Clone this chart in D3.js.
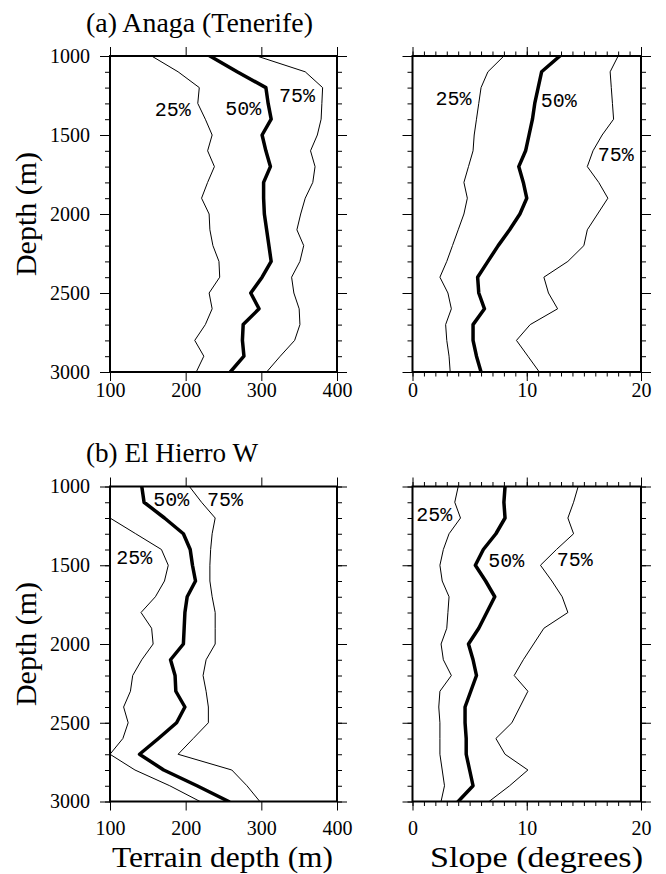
<!DOCTYPE html>
<html>
<head>
<meta charset="UTF-8">
<title>Terrain depth and slope percentiles</title>
<script src="https://cdn.jsdelivr.net/npm/d3@7"></script>
<style>
  body { margin: 0; background: #fff; }
  svg { display: block; }
  .frame { fill: none; stroke: #000; stroke-width: 2px; }
  .axis path { display: none; }
  .axis line { stroke: #000; stroke-width: 1px; }
  .axis text { font-family: "Liberation Serif", serif; font-size: 20px; fill: #000; }
  .line { fill: none; stroke: #000; stroke-linejoin: round; stroke-linecap: round; }
  .pct { font-family: "Liberation Mono", monospace; font-size: 20px; fill: #000; }
  .title { font-family: "Liberation Serif", serif; font-size: 27px; fill: #000; }
  .label { font-family: "Liberation Serif", serif; font-size: 30px; fill: #000; }
</style>
</head>
<body>
<div id="chart"></div>
<script>
  // depth of each sample (m)
  var depths = [1000, 1100, 1200, 1300, 1400, 1500, 1600, 1700, 1800, 1900, 2000,
                2100, 2200, 2300, 2400, 2500, 2600, 2700, 2800, 2900, 3000];

  // (a) Anaga (Tenerife) - terrain depth (m)
  var anagaDepth25 = [155, 190, 218, 216, 226, 235, 229, 238, 229, 221, 231, 232, 236, 244, 245, 231, 235, 226, 212, 224, 214];
  var anagaDepth50 = [232, 268, 306, 309, 313, 301, 306, 312, 303, 303, 304, 307, 310, 313, 301, 286, 297, 276, 275, 277, 259];
  var anagaDepth75 = [294, 358, 381, 380, 379, 374, 365, 371, 368, 358, 352, 347, 356, 351, 340, 343, 350, 351, 344, 325, 307];

  // (a) Anaga (Tenerife) - slope (degrees)
  var anagaSlope25 = [8.0, 6.6, 6.0, 5.8, 5.6, 5.4, 5.3, 4.9, 4.5, 4.8, 4.5, 4.0, 3.5, 3.0, 2.4, 3.1, 3.4, 2.9, 3.0, 3.2, 3.3];
  var anagaSlope50 = [12.9, 11.3, 11.0, 10.7, 10.5, 10.2, 9.9, 9.3, 9.7, 10.0, 9.4, 8.5, 7.5, 6.6, 5.7, 5.8, 6.3, 5.3, 5.3, 5.6, 6.0];
  var anagaSlope75 = [18.0, 17.3, 17.4, 17.5, 17.6, 16.6, 15.8, 15.3, 16.3, 17.1, 16.2, 15.3, 15.0, 13.6, 11.5, 11.9, 12.7, 10.3, 9.1, 10.1, 11.1];

  // (b) El Hierro W - terrain depth (m); null = off the left edge
  var hierroDepth25 = [null, null, 100, 134, 168, 177, 172, 160, 141, 155, 157, 142, 130, 127, 118, 124, 117, 100, 133, 179, 219];
  var hierroDepth50 = [142, 145, 172, 197, 206, 209, 213, 202, 199, 198, 197, 180, 186, 187, 199, 188, 164, 139, 171, 215, 257];
  var hierroDepth75 = [205, 221, 239, 235, 233, 232, 232, 235, 239, 239, 239, 227, 223, 227, 230, 230, 210, 190, 261, 281, 298];

  // (b) El Hierro W - slope (degrees)
  var hierroSlope25 = [4.0, 3.7, 4.2, 3.2, 2.7, 2.4, 2.6, 3.2, 3.1, 3.0, 2.5, 2.7, 3.4, 2.4, 2.3, 2.4, 2.4, 2.4, 2.6, 2.8, 2.5];
  var hierroSlope50 = [8.1, 8.0, 8.1, 7.3, 6.2, 5.5, 6.4, 7.2, 6.5, 5.8, 4.9, 5.3, 5.6, 5.1, 4.6, 4.6, 4.7, 4.7, 5.0, 5.3, 4.0];
  var hierroSlope75 = [14.5, 14.1, 13.6, 14.1, 12.6, 11.2, 12.2, 13.1, 13.6, 11.5, 10.6, 9.7, 8.9, 10.1, 9.4, 8.7, 7.3, 8.1, 10.1, 8.5, 6.7];

  var pctNames = ["25%", "50%", "75%"];

  // where the percentile labels sit, in data units [x, depth]
  var anagaDepthLabels  = [[183, 1344], [276, 1337], [347, 1258]];
  var anagaSlopeLabels  = [[3.6, 1274], [12.8, 1285], [17.8, 1628]];
  var hierroDepthLabels = [[132, 1454], [181, 1090], [252, 1090]];
  var hierroSlopeLabels = [[1.9, 1185], [8.2, 1475], [14.2, 1467]];

  var terrainTicks = [100, 200, 300, 400];
  var slopeTicks = [0, 10, 20];
  var slopeMinor = [0, 1, 2, 3, 4, 5, 6, 7, 8, 9, 10, 11, 12, 13, 14, 15, 16, 17, 18, 19, 20];
  var depthTicks = [1000, 1500, 2000, 2500, 3000];

  var titles = ["(a) Anaga (Tenerife)", "(b) El Hierro W"];
  var xTitles = ["Terrain depth (m)", "Slope (degrees)"];

  /* layout */
  var width = 666, height = 874;
  var cols = [{ x0: 110, x1: 337, titleLen: 221, titleMid: 222.5 },
              { x0: 412.5, x1: 641, titleLen: 213, titleMid: 536.5 }];
  var rows = [{ y0: 56, y1: 372, labelGap: 25, titleLen: 227 },
              { y0: 486.5, y1: 801.5, labelGap: 33, titleLen: 172 }];

  var panels = [
    { row: 0, col: 0, kind: "terrain", series: [anagaDepth25, anagaDepth50, anagaDepth75], labels: anagaDepthLabels },
    { row: 0, col: 1, kind: "slope", series: [anagaSlope25, anagaSlope50, anagaSlope75], labels: anagaSlopeLabels },
    { row: 1, col: 0, kind: "terrain", series: [hierroDepth25, hierroDepth50, hierroDepth75], labels: hierroDepthLabels },
    { row: 1, col: 1, kind: "slope", series: [hierroSlope25, hierroSlope50, hierroSlope75], labels: hierroSlopeLabels }
  ];

  var svg = d3.select("#chart").append("svg")
    .attr("width", width)
    .attr("height", height);

  panels.forEach(function (p, i) {
    var c = cols[p.col], r = rows[p.row];
    var pw = c.x1 - c.x0, ph = r.y1 - r.y0;

    var x = d3.scaleLinear()
      .domain(p.kind === "terrain" ? [100, 400] : [0, 20])
      .range([0, pw]);
    var y = d3.scaleLinear()
      .domain([1000, 3000])
      .range([0, ph]);

    var g = svg.append("g")
      .attr("transform", "translate(" + c.x0 + "," + r.y0 + ")");

    g.append("clipPath").attr("id", "clip" + i)
      .append("rect").attr("width", pw).attr("height", ph);

    /* y ticks, left and right, outward */
    g.append("g").attr("class", "axis")
      .call(d3.axisLeft(y).tickValues(depths).tickSize(5).tickFormat(""));
    g.append("g").attr("class", "axis")
      .call(d3.axisLeft(y).tickValues(depthTicks).tickSize(10).tickPadding(10)
        .tickFormat(p.col === 0 ? d3.format("d") : ""));
    g.append("g").attr("class", "axis")
      .attr("transform", "translate(" + pw + ",0)")
      .call(d3.axisRight(y).tickValues(depths).tickSize(5).tickFormat(""));
    g.append("g").attr("class", "axis")
      .attr("transform", "translate(" + pw + ",0)")
      .call(d3.axisRight(y).tickValues(depthTicks).tickSize(10).tickFormat(""));

    /* x ticks, top and bottom, outward */
    var major = p.kind === "terrain" ? terrainTicks : slopeTicks;
    if (p.kind === "slope") {
      g.append("g").attr("class", "axis")
        .call(d3.axisTop(x).tickValues(slopeMinor).tickSize(4.5).tickFormat(""));
      g.append("g").attr("class", "axis")
        .attr("transform", "translate(0," + ph + ")")
        .call(d3.axisBottom(x).tickValues(slopeMinor).tickSize(4.5).tickFormat(""));
    }
    g.append("g").attr("class", "axis")
      .call(d3.axisTop(x).tickValues(major).tickSize(9).tickFormat(""));
    var xb = g.append("g").attr("class", "axis")
      .attr("transform", "translate(0," + ph + ")")
      .call(d3.axisBottom(x).tickValues(major).tickSize(9).tickFormat(d3.format("d")));
    xb.selectAll("text").attr("y", r.labelGap).attr("dy", 0);

    /* percentile lines */
    var line = d3.line()
      .defined(function (d) { return d[0] != null; })
      .x(function (d) { return x(d[0]); })
      .y(function (d) { return y(d[1]); });

    g.append("g").attr("clip-path", "url(#clip" + i + ")")
      .selectAll("path")
      .data(p.series).enter()
      .append("path")
      .attr("class", "line")
      .attr("stroke-width", function (d, k) { return k === 1 ? 3.5 : 1; })
      .attr("d", function (s) {
        return line(s.map(function (v, k) { return [v, depths[k]]; }));
      });

    g.selectAll(".pct")
      .data(p.labels).enter()
      .append("text")
      .attr("class", "pct")
      .attr("x", function (d) { return x(d[0]); })
      .attr("y", function (d) { return y(d[1]); })
      .attr("text-anchor", "middle")
      .attr("dominant-baseline", "central")
      .text(function (d, k) { return pctNames[k]; });

    g.append("rect")
      .attr("class", "frame")
      .attr("width", pw)
      .attr("height", ph);

    if (p.col === 0) {
      svg.append("text")
        .attr("class", "title")
        .attr("x", 86)
        .attr("y", r.y0 - 24.5)
        .attr("textLength", r.titleLen)
        .attr("lengthAdjust", "spacingAndGlyphs")
        .text(titles[p.row]);

      svg.append("text")
        .attr("class", "label")
        .attr("transform", "translate(36," + (r.y0 + ph / 2) + ") rotate(-90)")
        .attr("text-anchor", "middle")
        .text("Depth (m)");
    }
  });

  /* x axis titles under the bottom row */
  cols.forEach(function (c, k) {
    svg.append("text")
      .attr("class", "label")
      .attr("x", c.titleMid)
      .attr("y", 866.5)
      .attr("text-anchor", "middle")
      .attr("textLength", c.titleLen)
      .attr("lengthAdjust", "spacingAndGlyphs")
      .text(xTitles[k]);
  });
</script>
</body>
</html>
